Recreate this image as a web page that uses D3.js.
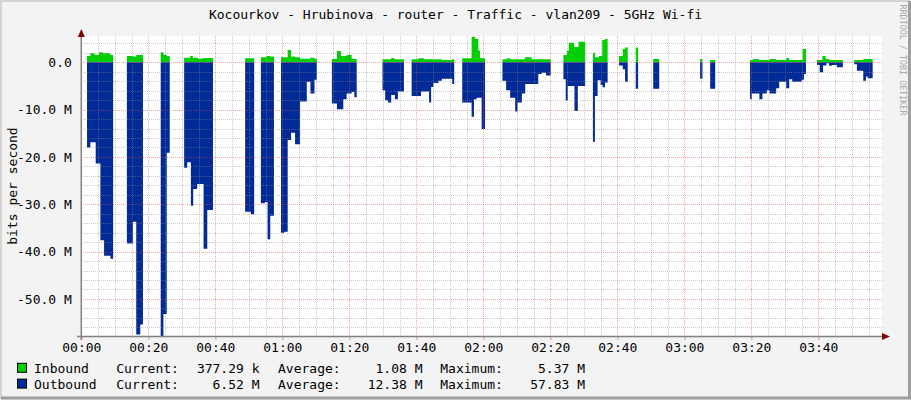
<!DOCTYPE html>
<html>
<head>
<meta charset="utf-8">
<script src="https://cdn.jsdelivr.net/npm/d3@7"></script>
<style>
  body { margin: 0; background: #f3f3f3; }
  text { font-family: "DejaVu Sans Mono", monospace; }
</style>
</head>
<body>
<svg id="chart" width="911" height="400"></svg>
<script>
// times are minutes after 00:00, values in Mbit/s; null = no data from that time on
var inTime = [
  1.7, 2.7, 4.0, 5.3, 6.5, 8.7, 9.5,
  13.6, 15.4, 16.4, 18.4,
  23.7, 24.5, 25.5, 26.4,
  30.7, 32.5, 33.3, 34.8, 36.3, 39.3,
  48.9, 51.6,
  53.6, 55.3, 56.3, 57.5,
  59.6, 61.6, 62.6, 63.8, 65.3, 68.3, 69.6, 70.3,
  74.8, 76.3, 77.5, 79.2, 80.7, 82.2,
  89.9, 92.5, 93.4, 96.3,
  98.6, 100.6, 102.3, 107.6, 110.6, 111.3,
  113.7, 116.5, 117.5, 118.5, 119.0, 120.5,
  125.7, 127.0, 128.0, 132.4, 134.4, 140.1,
  143.9, 144.9, 145.5, 147.1, 148.4, 150.4,
  152.7, 153.3, 154.5, 155.5, 156.3, 157.1,
  160.5, 161.6, 162.3, 163.1,
  165.5, 166.2,
  170.7, 172.5,
  184.7, 185.4,
  187.7, 189.2,
  199.6, 200.4, 202.3, 205.4, 207.3, 210.4, 211.3, 215.3, 216.3,
  219.6, 221.2, 222.2, 223.2, 227.3,
  230.7, 233.4, 236.2
];
var inMbps = [
  1.33, 1.9, 1.54, 2.1, 1.9, 1.54, null,
  1.33, 1.2, 1.54, null,
  2.1, 1.6, 1.33, null,
  0.97, 1.33, 0.97, 0.76, 0.9, null,
  0.84, null,
  1.05, 1.33, 1.2, null,
  1.05, 2.6, 1.2, 1.05, 0.76, 0.97, 0.76, null,
  0.7, 2.4, 1.33, 1.54, 0.7, null,
  0.63, 0.9, 0.63, null,
  0.63, 0.84, 0.63, 0.49, 0.63, null,
  0.84, 5.37, 4.9, 2.5, 0.84, null,
  0.63, 0.84, 0.63, 1.05, 0.63, null,
  1.54, 2.45, 4.15, 3.2, 4.36, null,
  2.0, 1.05, 1.33, 4.7, 4.9, null,
  1.33, 2.8, 3.1, null,
  3.1, null,
  0.7, null,
  0.7, null,
  0.49, null,
  0.49, 0.7, 0.49, 0.7, 0.49, 0.91, 0.49, 2.8, null,
  0.49, 1.33, 0.7, 0.49, null,
  0.49, 0.7, null
];
var outTime = [
  1.7, 2.7, 4.3, 5.7, 6.8, 8.7, 9.5,
  13.6, 15.4, 16.4, 17.6, 18.4,
  23.7, 24.5, 25.5, 26.4,
  30.7, 31.6, 32.7, 33.4, 34.6, 36.5, 37.6, 39.3,
  48.9, 50.6, 51.6,
  53.6, 54.8, 55.6, 56.4, 57.5,
  59.6, 60.6, 61.6, 62.6, 63.8, 65.3, 67.3, 68.4, 69.6, 70.3,
  74.8, 76.3, 78.2, 79.2, 80.7, 81.5, 82.2,
  89.9, 90.7, 91.5, 92.5, 93.6, 94.5, 96.3,
  98.6, 101.4, 103.8, 104.4, 105.1, 106.6, 107.6, 110.7, 111.3,
  113.7, 116.5, 117.2, 118.0, 119.5, 120.5,
  125.7, 126.8, 128.0, 129.5, 130.2, 131.5, 132.5, 136.4, 137.4, 138.7, 140.1,
  143.9, 144.6, 145.2, 147.2, 148.2, 150.4,
  152.7, 153.3, 154.1, 155.0, 155.6, 156.3, 157.1,
  160.5, 161.6, 162.3, 163.1,
  165.5, 166.2,
  170.7, 172.5,
  184.7, 185.4,
  187.7, 189.2,
  199.6, 200.1, 202.4, 203.3, 204.6, 205.4, 207.4, 208.3, 210.4, 211.3, 212.2, 215.0, 215.7, 216.3,
  219.6, 220.4, 221.4, 222.4, 223.2, 224.0, 225.5, 227.3,
  230.7, 231.5, 233.4, 234.2, 234.7, 236.2
];
var outMbps = [
  18.0, 16.9, 21.4, 37.6, 40.9, 41.5, null,
  38.3, 33.7, 57.5, 55.4, null,
  57.83, 53.2, 19.1, null,
  22.3, 21.1, 30.3, 26.8, 25.7, 39.4, 31.2, null,
  31.6, 32.1, null,
  29.8, 29.5, 37.4, 32.4, null,
  36.0, 35.8, 16.4, 14.9, 17.3, 8.3, 4.1, 6.6, 3.7, null,
  8.7, 9.9, 7.8, 6.6, 6.3, 7.4, null,
  5.9, 8.0, 8.5, 6.9, 7.8, 6.2, null,
  7.1, 6.2, 8.5, 5.2, 4.4, 3.9, 3.5, 4.6, null,
  8.5, 11.5, 7.8, 7.5, 14.1, null,
  3.9, 5.9, 7.5, 10.4, 8.5, 6.6, 4.6, 2.5, 2.2, 2.8, null,
  3.6, 8.1, 5.0, 10.3, 5.0, null,
  16.8, 7.1, 3.8, 4.8, 5.3, 4.3, null,
  0.7, 1.5, 4.1, null,
  5.6, null,
  5.6, null,
  3.5, null,
  5.6, null,
  7.8, 6.6, 7.8, 6.6, 5.9, 6.6, 5.5, 4.1, 5.5, 3.6, 4.1, 3.7, 2.5, null,
  0.6, 2.1, 0.7, 0.2, 0.75, 0.6, 1.06, null,
  0.4, 1.8, 3.9, 3.0, 3.4, null
];

var xTickMinutes = [0, 20, 40, 60, 80, 100, 120, 140, 160, 180, 200, 220];
var yTickValues = [0, -10, -20, -30, -40, -50];

var seriesNames = ["Inbound", "Outbound"];
var seriesColors = ["#00CF00", "#002A97"];
var currentLabels = ["377.29 k", "6.52 M"];
var averageLabels = ["1.08 M", "12.38 M"];
var maximumLabels = ["5.37 M", "57.83 M"];

var title = "Kocourkov - Hrubinova - router - Traffic - vlan209 - 5GHz Wi-fi";

var svg = d3.select("#chart");
var W = 911, H = 400;
var plotL = 81.3, plotR = 881.7, plotT = 36, plotB = 336;

var t0 = new Date(2024, 0, 1, 0, 0, 0);
function toDate(m) { return new Date(t0.getTime() + m * 60000); }

var x = d3.scaleTime().domain([t0, toDate(238.9)]).range([plotL, plotR]);
var y = d3.scaleLinear().domain([-57.83, 5.55]).range([plotB, plotT]);

// background + frame shading
svg.append("rect").attr("width", W).attr("height", H).attr("fill", "#f3f3f3");
svg.append("path").attr("d", "M1,399V1H910").attr("fill", "none").attr("stroke", "#d4d4d4").attr("stroke-width", 2);
svg.append("path").attr("d", "M1,398H909.5V1").attr("fill", "none").attr("stroke", "#9e9e9e").attr("stroke-width", 3);

svg.append("rect").attr("x", plotL).attr("y", plotT)
  .attr("width", plotR - plotL).attr("height", plotB - plotT).attr("fill", "#fff");

// step series
function stepPoints(times, values, sign) {
  var pts = [];
  for (var i = 0; i < times.length; i++) {
    var v = values[i];
    if (v === null) { pts.push({ t: times[i], v: null }); continue; }
    pts.push({ t: times[i], v: sign * v });
    if (values[i + 1] === null) pts.push({ t: times[i + 1], v: sign * v });
  }
  return pts;
}

var area = d3.area()
  .defined(function(d) { return d.v !== null; })
  .curve(d3.curveStepAfter)
  .x(function(d) { return x(toDate(d.t)); })
  .y0(y(0))
  .y1(function(d) { return y(d.v); });

svg.append("path").datum(stepPoints(inTime, inMbps, 1))
  .attr("fill", seriesColors[0]).attr("d", area);
svg.append("path").datum(stepPoints(outTime, outMbps, -1))
  .attr("fill", seriesColors[1]).attr("d", area);

// grid (drawn over the data like rrdtool)
var grid = svg.append("g").attr("shape-rendering", "crispEdges");
var minorY = d3.range(-56, 6, 2).filter(function(v) { return v % 10 !== 0; });
var minorX = d3.range(0, 239, 5).filter(function(m) { return m % 20 !== 0; });

grid.selectAll(".hmin").data(minorY).join("line")
  .attr("x1", plotL).attr("x2", plotR)
  .attr("y1", function(d) { return Math.round(y(d)) + 0.5; })
  .attr("y2", function(d) { return Math.round(y(d)) + 0.5; })
  .attr("stroke", "#8c8c8c").attr("stroke-opacity", 0.45).attr("stroke-dasharray", "1,1");
grid.selectAll(".vmin").data(minorX).join("line")
  .attr("y1", plotT).attr("y2", plotB)
  .attr("x1", function(d) { return Math.round(x(toDate(d))) + 0.5; })
  .attr("x2", function(d) { return Math.round(x(toDate(d))) + 0.5; })
  .attr("stroke", "#8c8c8c").attr("stroke-opacity", 0.45).attr("stroke-dasharray", "1,1");
grid.selectAll(".hmaj").data(yTickValues).join("line")
  .attr("x1", plotL).attr("x2", plotR)
  .attr("y1", function(d) { return Math.round(y(d)) + 0.5; })
  .attr("y2", function(d) { return Math.round(y(d)) + 0.5; })
  .attr("stroke", "#e05050").attr("stroke-opacity", 0.5).attr("stroke-dasharray", "1,1");
grid.selectAll(".vmaj").data(xTickMinutes.slice(1)).join("line")
  .attr("y1", plotT).attr("y2", plotB)
  .attr("x1", function(d) { return Math.round(x(toDate(d))) + 0.5; })
  .attr("x2", function(d) { return Math.round(x(toDate(d))) + 0.5; })
  .attr("stroke", "#e05050").attr("stroke-opacity", 0.5).attr("stroke-dasharray", "1,1");

// axis lines and arrows
svg.append("line").attr("x1", 77).attr("x2", 884).attr("y1", plotB + 0.5).attr("y2", plotB + 0.5)
  .attr("stroke", "#808080").attr("stroke-width", 1.5);
svg.append("line").attr("x1", plotL).attr("x2", plotL).attr("y1", plotB + 4).attr("y2", 33)
  .attr("stroke", "#808080").attr("stroke-width", 1.5);
svg.append("path").attr("d", "M" + (plotL - 3.5) + ",37L" + plotL + ",29L" + (plotL + 3.5) + ",37Z").attr("fill", "#7f0000");
svg.append("path").attr("d", "M882," + (plotB - 3) + "L890," + (plotB + 0.5) + "L882," + (plotB + 4) + "Z").attr("fill", "#7f0000");

// axes labels
var xAxis = d3.axisBottom(x)
  .tickValues(xTickMinutes.map(toDate))
  .tickFormat(d3.timeFormat("%H:%M"))
  .tickSize(3).tickPadding(3);
var gx = svg.append("g").attr("transform", "translate(0," + (plotB + 1) + ")").call(xAxis);
gx.select(".domain").remove();
gx.selectAll(".tick line").attr("stroke", "#e05050").attr("stroke-opacity", 0.6);
gx.selectAll("text").attr("font-family", "DejaVu Sans Mono").attr("font-size", 13).attr("fill", "#000");

var yAxis = d3.axisLeft(y)
  .tickValues(yTickValues)
  .tickFormat(function(v) { return v === 0 ? "0.0" : v.toFixed(1) + " M"; })
  .tickSize(0).tickPadding(9.5);
var gy = svg.append("g").attr("transform", "translate(" + plotL + ",0)").call(yAxis);
gy.select(".domain").remove();
gy.selectAll("text").attr("font-family", "DejaVu Sans Mono").attr("font-size", 13).attr("fill", "#000");

// titles
svg.append("text").attr("x", 455.5).attr("y", 18.5).attr("text-anchor", "middle")
  .attr("font-size", 13).text(title);
svg.append("text").attr("transform", "translate(16.5,186) rotate(-90)").attr("text-anchor", "middle")
  .attr("font-size", 13).text("bits per second");
svg.append("text").attr("transform", "translate(900,60) rotate(90)").attr("text-anchor", "middle")
  .attr("font-size", 8.4).attr("fill", "#a8a8a8").text("RRDTOOL / TOBI OETIKER");

// legend
var legend = svg.append("g").attr("font-size", 13).attr("fill", "#000");
seriesNames.forEach(function(name, i) {
  var base = 372.8 + i * 15.8;
  legend.append("rect").attr("x", 17.5).attr("y", base - 9.5).attr("width", 9).attr("height", 9)
    .attr("fill", seriesColors[i]).attr("stroke", "#000").attr("stroke-width", 1);
  legend.append("text").attr("x", 34).attr("y", base).text(name);
  legend.append("text").attr("x", 116.3).attr("y", base).text("Current:");
  legend.append("text").attr("x", 259.5).attr("y", base).attr("text-anchor", "end").text(currentLabels[i]);
  legend.append("text").attr("x", 278).attr("y", base).text("Average:");
  legend.append("text").attr("x", 422.5).attr("y", base).attr("text-anchor", "end").text(averageLabels[i]);
  legend.append("text").attr("x", 440.3).attr("y", base).text("Maximum:");
  legend.append("text").attr("x", 585).attr("y", base).attr("text-anchor", "end").text(maximumLabels[i]);
});
</script>
</body>
</html>
